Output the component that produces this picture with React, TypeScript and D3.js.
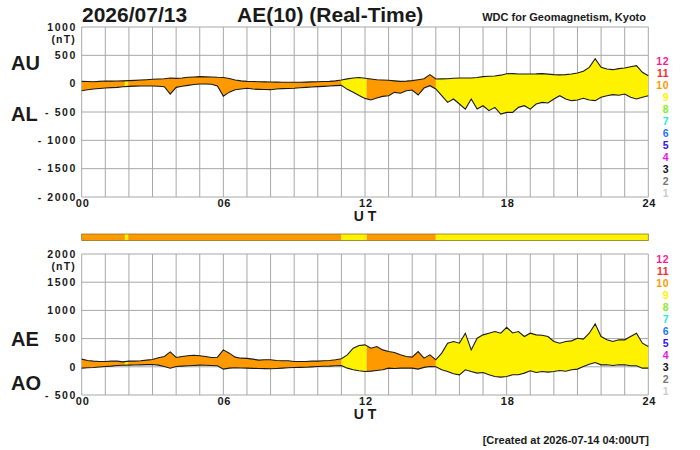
import React, { useEffect, useRef } from 'react';
import * as d3 from 'd3';

// Samples every 15 minutes, 00:00 .. 24:00 UT (97 values per series).
const AU = [
  40, 38, 35, 40, 47, 45, 47, 50, 53, 58, 65, 70, 77, 82, 88, 100, 94, 100, 112, 118, 124, 120, 118, 112,
  110, 90, 65, 50, 41, 38, 35, 32, 30, 28, 24, 24, 24, 26, 28, 32, 35, 38, 41, 50, 65, 85, 100, 110,
  95, 82, 70, 65, 59, 50, 41, 45, 53, 70, 88, 159, 82, 85, 88, 95, 100, 100, 100, 110, 124, 130, 135, 150,
  175, 178, 170, 170, 170, 172, 177, 168, 159, 155, 159, 170, 188, 220, 288, 440, 288, 260, 247, 265, 277, 300, 318, 200,
  141,
];
const AL = [
  -124, -108, -94, -85, -77, -70, -65, -55, -47, -44, -41, -41, -41, -45, -53, -185, -65, -45, -30, -15, -6, -6, -10, -40,
  -220, -150, -106, -95, -82, -95, -100, -104, -106, -95, -88, -85, -82, -72, -65, -58, -53, -47, -41, -35, -30, -100, -153, -210,
  -260, -288, -253, -224, -212, -153, -170, -124, -112, -200, -77, -35, -94, -212, -330, -270, -359, -448, -270, -448, -389, -477, -418, -536,
  -507, -507, -418, -389, -450, -359, -330, -340, -270, -212, -270, -300, -288, -259, -288, -300, -241, -212, -194, -205, -183, -241, -270, -241,
  -212,
];
const AE = [
  136, 112, 100, 94, 94, 100, 100, 88, 100, 100, 106, 118, 130, 159, 183, 265, 165, 183, 195, 206, 195, 183, 165, 170,
  300, 242, 171, 153, 150, 136, 118, 124, 124, 112, 106, 106, 94, 94, 94, 100, 100, 106, 112, 124, 142, 212, 330, 378,
  389, 330, 360, 300, 271, 254, 212, 183, 171, 270, 153, 212, 124, 242, 420, 448, 419, 596, 300, 507, 566, 596, 625, 596,
  700, 600, 625, 537, 596, 566, 560, 537, 448, 419, 448, 460, 507, 490, 596, 761, 537, 478, 448, 478, 478, 537, 596, 419,
  360,
];
const AO = [
  -24, -18, -12, -3, 6, 12, 24, 27, 30, 32, 35, 38, 41, 30, 6, -24, 6, 12, 18, 24, 30, 28, 24, 20,
  -41, -24, -18, -20, -24, -28, -30, -33, -35, -30, -24, -18, -12, -10, -8, -2, 6, 9, 12, 18, 24, -24, -53, -71,
  -83, -77, -65, -53, -24, -30, -24, -24, -24, -41, -10, 6, 0, -53, -83, -124, -142, -53, -83, -112, -100, -142, -171, -183,
  -171, -142, -142, -112, -71, -100, -83, -95, -83, -65, -80, -53, -41, 6, 47, 77, 35, 35, 24, 35, 35, 18, 18, -24,
  -24,
];

// Number of contributing stations, as segments of the day (hours UT)
const STATION_START = [0, 1.83, 1.97, 11.0, 12.07, 15.0];
const STATION_END = [1.83, 1.97, 11.0, 12.07, 15.0, 24];
const STATION_COUNT = [10, 9, 10, 9, 10, 9];

const LEGEND_COUNTS = [12, 11, 10, 9, 8, 7, 6, 5, 4, 3, 2, 1];
const COUNT_COLORS: Record<number, string> = {
  12: '#ff1a8c',
  11: '#ff2a2a',
  10: '#ff9900',
  9: '#fff200',
  8: '#88ee22',
  7: '#22eecc',
  6: '#2277ff',
  5: '#3311ee',
  4: '#ee11ee',
  3: '#111111',
  2: '#777777',
  1: '#cccccc',
};

const TOP_TICKS = [1000, 500, 0, -500, -1000, -1500, -2000];
const TOP_TICK_LABELS = ['1000', '500', '0', '- 500', '- 1000', '- 1500', '- 2000'];
const BOTTOM_TICKS = [2000, 1500, 1000, 500, 0, -500];
const BOTTOM_TICK_LABELS = ['2000', '1500', '1000', '500', '0', '- 500'];
const HOUR_TICKS = [0, 6, 12, 18, 24];
const HOUR_LABELS = ['00', '06', '12', '18', '24'];

const FONT = '"Liberation Sans", Arial, Helvetica, sans-serif';
const GRID = '#a8a8a8';
const INK = '#1a1a1a';

const X0 = 81.7;
const X1 = 648.3;

type Sel = d3.Selection<SVGGElement, unknown, null, undefined>;

const hourOf = (i: number) => i * 0.25;

function drawPanel(
  svg: Sel,
  id: string,
  y: d3.ScaleLinear<number, number>,
  ticks: number[],
  tickLabels: string[],
  upper: number[],
  lower: number[],
  legendTop: number,
) {
  const x = d3.scaleLinear().domain([0, 24]).range([X0, X1]);
  const [yBottom, yTop] = y.range();

  // grid
  const grid = svg.append('g').attr('stroke', GRID).attr('stroke-width', 1);
  grid
    .selectAll('line.v')
    .data(d3.range(0, 25))
    .enter()
    .append('line')
    .attr('x1', d => x(d))
    .attr('x2', d => x(d))
    .attr('y1', yTop)
    .attr('y2', yBottom);
  grid
    .selectAll('line.h')
    .data(ticks)
    .enter()
    .append('line')
    .attr('x1', X0)
    .attr('x2', X1)
    .attr('y1', d => y(d))
    .attr('y2', d => y(d));

  // filled band, coloured by station count
  const area = d3
    .area<number>()
    .x((_d, i) => x(hourOf(i)))
    .y0((_d, i) => y(lower[i]))
    .y1(d => y(d));

  STATION_COUNT.forEach((count, k) => {
    const clipId = `${id}-clip-${k}`;
    svg
      .append('clipPath')
      .attr('id', clipId)
      .append('rect')
      .attr('x', x(STATION_START[k]))
      .attr('width', x(STATION_END[k]) - x(STATION_START[k]))
      .attr('y', yTop)
      .attr('height', yBottom - yTop);
    svg
      .append('path')
      .datum(upper)
      .attr('clip-path', `url(#${clipId})`)
      .attr('fill', COUNT_COLORS[count])
      .attr('d', area);
  });

  const line = d3
    .line<number>()
    .x((_d, i) => x(hourOf(i)))
    .y(d => y(d));
  [upper, lower].forEach(series => {
    svg
      .append('path')
      .datum(series)
      .attr('fill', 'none')
      .attr('stroke', INK)
      .attr('stroke-width', 1.1)
      .attr('d', line);
  });

  // y tick labels
  svg
    .selectAll(`text.${id}-ytick`)
    .data(ticks)
    .enter()
    .append('text')
    .attr('x', 77)
    .attr('y', d => y(d))
    .attr('dy', '0.36em')
    .attr('text-anchor', 'end')
    .style('font', `bold 10.5px ${FONT}`)
    .style('letter-spacing', '1.6px')
    .style('fill', INK)
    .text((_d, i) => tickLabels[i]);
  svg
    .append('text')
    .attr('x', 76)
    .attr('y', y(ticks[0]) + 12)
    .attr('dy', '0.36em')
    .attr('text-anchor', 'end')
    .style('font', `bold 10.5px ${FONT}`)
    .style('letter-spacing', '1.2px')
    .style('fill', INK)
    .text('(nT)');

  // x tick labels
  svg
    .selectAll(`text.${id}-xtick`)
    .data(HOUR_TICKS)
    .enter()
    .append('text')
    .attr('x', d => x(d) + 1)
    .attr('y', yBottom + 10)
    .attr('text-anchor', 'middle')
    .style('font', `bold 11px ${FONT}`)
    .style('letter-spacing', '0.8px')
    .style('fill', INK)
    .text((_d, i) => HOUR_LABELS[i]);
  svg
    .append('text')
    .attr('x', x(12))
    .attr('y', yBottom + 24)
    .attr('text-anchor', 'middle')
    .style('font', `bold 14px ${FONT}`)
    .style('fill', INK)
    .text('U T');

  // station-count legend
  svg
    .selectAll(`text.${id}-legend`)
    .data(LEGEND_COUNTS)
    .enter()
    .append('text')
    .attr('x', 669)
    .attr('y', (_d, i) => legendTop + i * 12.05)
    .attr('dy', '0.36em')
    .attr('text-anchor', 'end')
    .style('font', `bold 10.5px ${FONT}`)
    .style('letter-spacing', '0.5px')
    .style('fill', d => COUNT_COLORS[d])
    .text(d => String(d));
}

const App: React.FC = () => {
  const svgRef = useRef<SVGSVGElement>(null);

  useEffect(() => {
    if (!svgRef.current) return;
    const root = d3.select(svgRef.current);
    root.selectAll('*').remove();
    const svg = root.append('g') as Sel;

    const yTop = d3.scaleLinear().domain([-2000, 1000]).range([197, 27]);
    const yBottom = d3.scaleLinear().domain([-500, 2000]).range([395, 254]);

    drawPanel(svg, 'top', yTop, TOP_TICKS, TOP_TICK_LABELS, AU, AL, 61);
    drawPanel(svg, 'bot', yBottom, BOTTOM_TICKS, BOTTOM_TICK_LABELS, AE, AO, 259);

    // station-count strip between the panels
    const x = d3.scaleLinear().domain([0, 24]).range([X0, X1]);
    const strip = svg.append('g');
    STATION_COUNT.forEach((count, k) => {
      strip
        .append('rect')
        .attr('x', x(STATION_START[k]))
        .attr('width', x(STATION_END[k]) - x(STATION_START[k]))
        .attr('y', 234)
        .attr('height', 6.5)
        .attr('fill', COUNT_COLORS[count]);
    });
    strip
      .append('rect')
      .attr('x', X0)
      .attr('width', X1 - X0)
      .attr('y', 234)
      .attr('height', 6.5)
      .attr('fill', 'none')
      .attr('stroke', '#8a7a20')
      .attr('stroke-width', 0.8);

    // big series labels
    const big = (t: string, yy: number) =>
      svg
        .append('text')
        .attr('x', 11)
        .attr('y', yy)
        .style('font', `bold 20px ${FONT}`)
        .style('fill', INK)
        .text(t);
    big('AU', 70);
    big('AL', 121);
    big('AE', 346);
    big('AO', 390);

    svg
      .append('text')
      .attr('x', 82)
      .attr('y', 22)
      .style('font', `bold 21px ${FONT}`)
      .style('fill', INK)
      .text('2026/07/13');
    svg
      .append('text')
      .attr('x', 237)
      .attr('y', 22)
      .style('font', `bold 21px ${FONT}`)
      .style('fill', INK)
      .text('AE(10) (Real-Time)');
    svg
      .append('text')
      .attr('x', 646)
      .attr('y', 21)
      .attr('text-anchor', 'end')
      .style('font', `bold 11px ${FONT}`)
      .style('fill', INK)
      .text('WDC for Geomagnetism, Kyoto');
    svg
      .append('text')
      .attr('x', 649)
      .attr('y', 444)
      .attr('text-anchor', 'end')
      .style('font', `bold 11px ${FONT}`)
      .style('fill', INK)
      .text('[Created at 2026-07-14 04:00UT]');
  }, []);

  return (
    <svg
      ref={svgRef}
      width={700}
      height={450}
      style={{ position: 'absolute', left: 0, top: 0, background: '#fff' }}
    />
  );
};

export default App;
